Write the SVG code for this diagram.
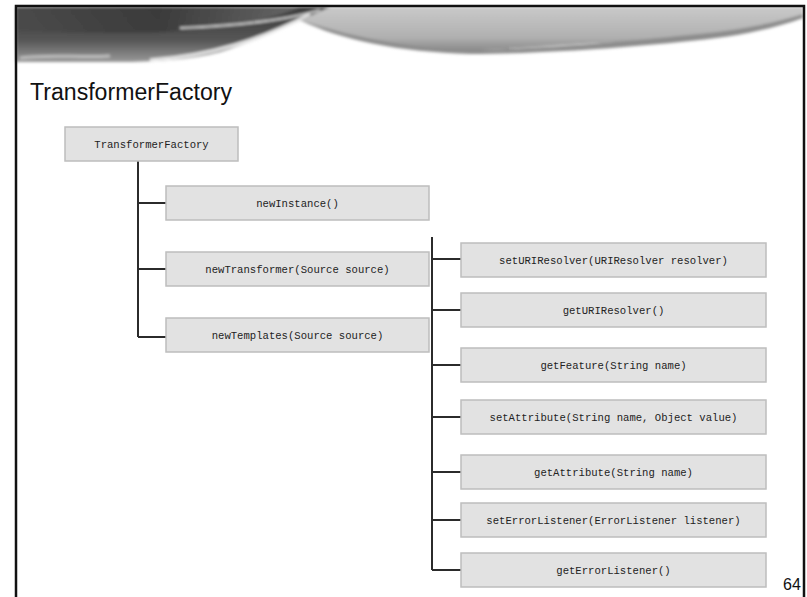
<svg xmlns="http://www.w3.org/2000/svg" width="807" height="597" viewBox="0 0 807 597">
  <style>
    .box rect { fill: #e2e2e2; stroke: #bdbdbd; stroke-width: 1.5; }
    .box text { font-family: "Liberation Mono", "Courier New", monospace; font-size: 10.6px; fill: #222; text-anchor: middle; }
    .wire { stroke: #2b2b2b; stroke-width: 2; fill: none; }
    .title { font-family: "Liberation Sans", Arial, sans-serif; font-size: 23px; fill: #111; }
    .pageno { font-family: "Liberation Sans", Arial, sans-serif; font-size: 16px; fill: #111; }
  </style>
  <defs>
    <linearGradient id="darkSwirl" x1="0" y1="0" x2="1" y2="0">
      <stop offset="0" stop-color="#4a4a4a"/>
      <stop offset="0.5" stop-color="#3a3a3a"/>
      <stop offset="1" stop-color="#6a6a6a"/>
    </linearGradient>
    <linearGradient id="darkLower" x1="0" y1="0" x2="0" y2="1">
      <stop offset="0" stop-color="#3c3c3c"/>
      <stop offset="0.6" stop-color="#555"/>
      <stop offset="1" stop-color="#999"/>
    </linearGradient>
    <linearGradient id="lightSwoosh" x1="0" y1="0" x2="0" y2="1">
      <stop offset="0" stop-color="#c9c9c9"/>
      <stop offset="0.7" stop-color="#b0b0b0"/>
      <stop offset="1" stop-color="#8a8a8a"/>
    </linearGradient>
    <filter id="soft" x="-5%" y="-20%" width="110%" height="140%">
      <feGaussianBlur stdDeviation="1.6"/>
    </filter>
  </defs>

  <rect x="0" y="0" width="807" height="597" fill="#fff"/>

  <!-- header artwork -->
  <g id="banner" filter="url(#soft)">
    <!-- light swoosh on the right -->
    <path d="M240 7 L803 7 L803 14 C760 30 700 40 620 42 C560 44 500 52 440 50 C380 48 330 30 280 14 Z" fill="url(#lightSwoosh)"/>
    <path d="M300 20 C360 40 420 50 480 50 C560 48 640 40 700 34 C740 30 780 22 803 14 L803 18 C770 30 730 38 680 42 C600 50 520 54 470 54 C400 52 340 40 300 20 Z" fill="#8c8c8c"/>
    <!-- dark swirl on the left -->
    <path d="M16 7 L330 7 C300 20 260 40 220 52 C190 60 150 62 120 62 L16 62 Z" fill="url(#darkLower)"/>
    <path d="M16 7 L300 7 C280 16 240 26 200 30 C150 34 80 34 16 30 Z" fill="url(#darkSwirl)" opacity="0.9"/>
    <!-- bright streaks -->
    <path d="M150 60 C210 56 260 40 310 14" stroke="#e8e8e8" stroke-width="3" fill="none"/>
    <path d="M180 28 C230 26 280 22 320 10" stroke="#cfcfcf" stroke-width="2" fill="none"/>
    <path d="M20 58 C50 54 80 58 110 56" stroke="#bdbdbd" stroke-width="3" fill="none"/>
  </g>

  <!-- slide frame -->
  <path d="M16 597 L16 6 L804 6 L804 597" fill="none" stroke="#111" stroke-width="2.5"/>

  <text class="title" x="30" y="100" textLength="202" lengthAdjust="spacingAndGlyphs">TransformerFactory</text>

  <!-- connectors -->
  <g id="connectors">
    <path class="wire" d="M138 161 V337 M138 203 H166 M138 269 H166 M138 337 H166"/>
    <path class="wire" stroke-width="1.6" d="M432 237 V570 M432 259 H461 M432 310 H461 M432 365 H461 M432 417 H461 M432 472 H461 M432 520 H461 M432 570 H461"/>
  </g>

  <g id="transformerFactory" class="box">
    <rect x="65" y="127" width="173" height="34"/>
    <text x="151.5" y="147.5">TransformerFactory</text>
  </g>
  <g id="newInstance" class="box">
    <rect x="166" y="186" width="263" height="34"/>
    <text x="297.5" y="206.5">newInstance()</text>
  </g>
  <g id="newTransformer" class="box">
    <rect x="166" y="252" width="263" height="34"/>
    <text x="297.5" y="272.5">newTransformer(Source source)</text>
  </g>
  <g id="newTemplates" class="box">
    <rect x="166" y="318" width="263" height="34"/>
    <text x="297.5" y="338.5">newTemplates(Source source)</text>
  </g>

  <g id="setURIResolver" class="box">
    <rect x="461" y="243" width="305" height="34"/>
    <text x="613.5" y="263.5">setURIResolver(URIResolver resolver)</text>
  </g>
  <g id="getURIResolver" class="box">
    <rect x="461" y="293" width="305" height="34"/>
    <text x="613.5" y="313.5">getURIResolver()</text>
  </g>
  <g id="getFeature" class="box">
    <rect x="461" y="348" width="305" height="34"/>
    <text x="613.5" y="368.5">getFeature(String name)</text>
  </g>
  <g id="setAttribute" class="box">
    <rect x="461" y="400" width="305" height="34"/>
    <text x="613.5" y="420.5">setAttribute(String name, Object value)</text>
  </g>
  <g id="getAttribute" class="box">
    <rect x="461" y="455" width="305" height="34"/>
    <text x="613.5" y="475.5">getAttribute(String name)</text>
  </g>
  <g id="setErrorListener" class="box">
    <rect x="461" y="503" width="305" height="34"/>
    <text x="613.5" y="523.5">setErrorListener(ErrorListener listener)</text>
  </g>
  <g id="getErrorListener" class="box">
    <rect x="461" y="553" width="305" height="34"/>
    <text x="613.5" y="573.5">getErrorListener()</text>
  </g>

  <text class="pageno" x="783" y="590">64</text>
</svg>
